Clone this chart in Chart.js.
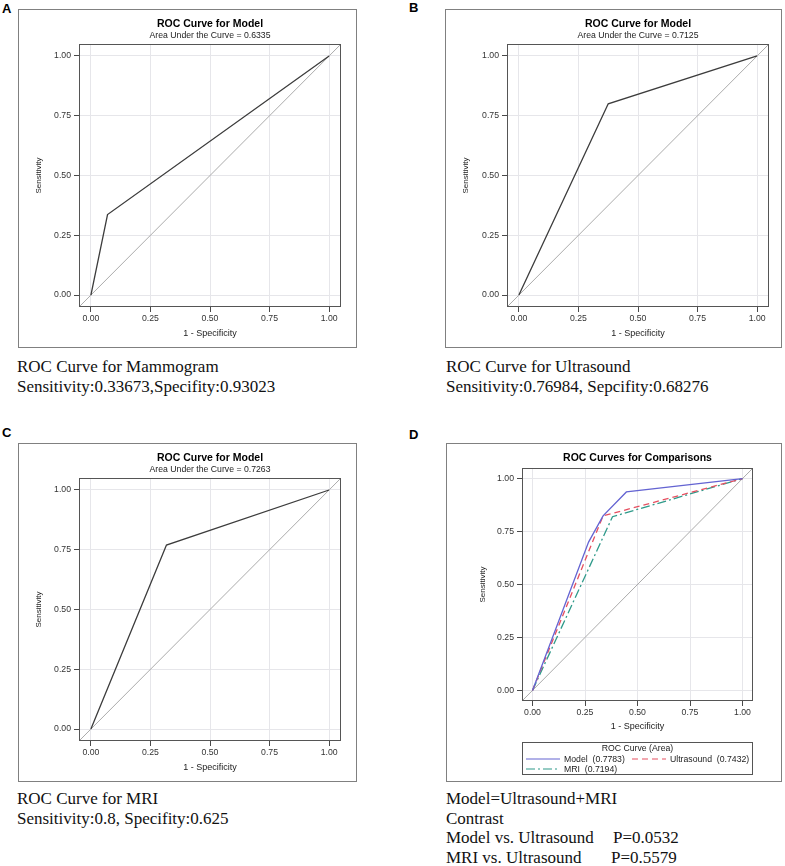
<!DOCTYPE html>
<html>
<head>
<meta charset="utf-8">
<script src="https://cdn.jsdelivr.net/npm/chart.js@4.4.1/dist/chart.umd.min.js"></script>
<style>
    body { margin: 0; width: 785px; height: 866px; background: #fff; position: relative; overflow: hidden; font-family: "Liberation Sans", Arial, sans-serif; }
    .panel-box { position: absolute; border: 1px solid #808080; box-sizing: border-box; }
    .panel-box canvas { position: absolute; left: 0; top: 0; }
    .letter { position: absolute; font: bold 13px "Liberation Sans", Arial, sans-serif; color: #000; }
    .caption { position: absolute; font: 17px "Liberation Serif", "Times New Roman", serif; line-height: 20px; color: #111; white-space: nowrap; }
    .caption .col { display: inline-block; }
    #legend-d { position: absolute; left: 522px; top: 742px; width: 231px; height: 33px; border: 1px solid #555; box-sizing: border-box; font-size: 8.7px; line-height: 10.5px; color: #222; }
    #legend-d .legend-title { text-align: center; }
    #legend-d .legend-items { display: grid; grid-template-columns: 106px auto; padding-left: 3px; }
    #legend-d .item { display: flex; align-items: center; white-space: pre; }
    #legend-d svg { margin-right: 4px; }
</style>
</head>
<body>

<div class="letter" style="left:2px; top:1px;">A</div>
<div class="letter" style="left:409px; top:0px;">B</div>
<div class="letter" style="left:2px; top:425px;">C</div>
<div class="letter" style="left:409px; top:427px;">D</div>

<div class="panel-box" style="left:18px; top:9px; width:339px; height:339px;"><canvas id="chartA" width="337" height="337"></canvas></div>
<div class="panel-box" style="left:445px; top:9px; width:337px; height:339px;"><canvas id="chartB" width="335" height="337"></canvas></div>
<div class="panel-box" style="left:18px; top:443px; width:339px; height:339px;"><canvas id="chartC" width="337" height="337"></canvas></div>
<div class="panel-box" style="left:446px; top:443px; width:336px; height:339px;"><canvas id="chartD" width="334" height="337"></canvas></div>
<div id="legend-d"></div>

<div class="caption" style="left:17px; top:357px;">ROC Curve for Mammogram<br>Sensitivity:0.33673,Specifity:0.93023</div>
<div class="caption" style="left:446px; top:357px;">ROC Curve for Ultrasound<br>Sensitivity:0.76984, Sepcifity:0.68276</div>
<div class="caption" style="left:17px; top:789px;">ROC Curve for MRI<br>Sensitivity:0.8, Specifity:0.625</div>
<div class="caption" style="left:446px; top:789px; line-height:19.7px;">Model=Ultrasound+MRI<br>Contrast<br><span class="col" style="width:167px">Model vs. Ultrasound</span>P=0.0532<br><span class="col" style="width:165px">MRI vs. Ultrasound</span>P=0.5579</div>

<script>
// Axis values
const tickValues = [0, 0.25, 0.5, 0.75, 1];
const axisRange = [-0.05, 1.05];

// Panel A - mammogram
const mammoFpr = [0, 0.0698, 1];
const mammoTpr = [0, 0.3367, 1];

// Panel B - ultrasound (as labelled)
const ultrasoundFpr = [0, 0.375, 1];
const ultrasoundTpr = [0, 0.80, 1];

// Panel C - MRI (as labelled)
const mriFpr = [0, 0.3172, 1];
const mriTpr = [0, 0.7698, 1];

// Panel D - comparison curves
const compLabels = ['Model', 'Ultrasound', 'MRI'];
const compAreas = ['0.7783', '0.7432', '0.7194'];
const compModelFpr = [0, 0.267, 0.336, 0.447, 1];
const compModelTpr = [0, 0.700, 0.824, 0.937, 1];
const compUltrasoundFpr = [0, 0.336, 1];
const compUltrasoundTpr = [0, 0.824, 1];
const compMriFpr = [0, 0.381, 1];
const compMriTpr = [0, 0.820, 1];

const FONT = '"Liberation Sans", Arial, sans-serif';
Chart.defaults.font.family = FONT;

function toPoints(xs, ys) {
    return xs.map((x, i) => ({ x: x, y: ys[i] }));
}

function lineDataset(label, xs, ys, color, dash, width) {
    return {
        label: label,
        data: toPoints(xs, ys),
        showLine: true,
        borderColor: color,
        backgroundColor: color,
        borderWidth: width || 1.3,
        borderDash: dash || [],
        pointRadius: 0,
        tension: 0
    };
}

function diagonalDataset() {
    return lineDataset('Chance', axisRange, axisRange, '#ababab', [], 1);
}

// dark frame round the plot area
const plotFrame = {
    id: 'plotFrame',
    afterDraw(chart) {
        const { ctx, chartArea: a } = chart;
        ctx.save();
        ctx.strokeStyle = '#555';
        ctx.lineWidth = 1;
        ctx.strokeRect(Math.round(a.left) + 0.5, Math.round(a.top) + 0.5, Math.round(a.width) - 1, Math.round(a.height) - 1);
        ctx.restore();
    }
};

function axisOptions(isX, cfg) {
    return {
        type: 'linear',
        min: axisRange[0],
        max: axisRange[1],
        afterBuildTicks: s => { s.ticks = tickValues.map(v => ({ value: v })); },
        afterFit: s => { if (isX) s.height = cfg.xHeight; else s.width = cfg.yWidth; },
        grid: { color: '#e6e6ea', tickColor: '#4a4a4a', tickLength: 5, drawTicks: true },
        border: { display: false },
        ticks: {
            color: '#333',
            font: { size: 8.7 },
            padding: isX ? 1 : 3,
            maxRotation: 0,
            autoSkip: false,
            callback: v => Number(v).toFixed(2)
        },
        title: {
            display: true,
            text: isX ? '1 - Specificity' : 'Sensitivity',
            color: '#222',
            font: { size: isX ? 9 : 8 },
            padding: isX ? { top: 0, bottom: cfg.xTitlePad } : { top: cfg.yTitlePad, bottom: 0 }
        }
    };
}

function rocChart(canvasId, cfg) {
    const ctx = document.getElementById(canvasId).getContext('2d');
    return new Chart(ctx, {
        type: 'scatter',
        data: { datasets: cfg.datasets.concat([diagonalDataset()]) },
        options: {
            responsive: false,
            animation: false,
            devicePixelRatio: 1,
            layout: { padding: { left: 0, top: 0, right: cfg.padRight, bottom: cfg.padBottom } },
            plugins: {
                legend: { display: false },
                tooltip: { enabled: false },
                title: {
                    display: true,
                    text: cfg.title,
                    fullSize: false,
                    color: '#000',
                    font: { size: 10.5, weight: 'bold' },
                    padding: cfg.titlePad
                },
                subtitle: {
                    display: !!cfg.subtitle,
                    text: cfg.subtitle || '',
                    fullSize: false,
                    color: '#222',
                    font: { size: 8.7 },
                    padding: { top: 0, bottom: 3.3 }
                }
            },
            scales: { x: axisOptions(true, cfg), y: axisOptions(false, cfg) }
        },
        plugins: [plotFrame].concat(cfg.plugins || [])
    });
}

// HTML legend for panel D, built from the chart's datasets
const htmlLegend = {
    id: 'htmlLegend',
    afterUpdate(chart) {
        const box = document.getElementById('legend-d');
        const items = chart.data.datasets.slice(0, compLabels.length).map((ds, i) => {
            const dash = ds.borderDash.length ? ds.borderDash.join(',') : 'none';
            return `<div class="item"><svg width="34" height="6"><line x1="0" y1="3" x2="34" y2="3" stroke="${ds.borderColor}" stroke-width="1.2" stroke-dasharray="${dash}"/></svg>${compLabels[i]}  (${compAreas[i]})</div>`;
        });
        box.innerHTML = `<div class="legend-title">ROC Curve (Area)</div><div class="legend-items">${items.join('')}</div>`;
    }
};

const curveColor = '#3c3c3c';

rocChart('chartA', {
    title: 'ROC Curve for Model',
    subtitle: 'Area Under the Curve = 0.6335',
    datasets: [lineDataset('Model', mammoFpr, mammoTpr, curveColor)],
    titlePad: { top: 7.7, bottom: 0 },
    padRight: 15, padBottom: 0, xHeight: 40, yWidth: 60, yTitlePad: 15, xTitlePad: 7.6
});

rocChart('chartB', {
    title: 'ROC Curve for Model',
    subtitle: 'Area Under the Curve = 0.7125',
    datasets: [lineDataset('Model', ultrasoundFpr, ultrasoundTpr, curveColor)],
    titlePad: { top: 7.7, bottom: 0 },
    padRight: 12, padBottom: 0, xHeight: 40, yWidth: 61, yTitlePad: 15, xTitlePad: 7.6
});

rocChart('chartC', {
    title: 'ROC Curve for Model',
    subtitle: 'Area Under the Curve = 0.7263',
    datasets: [lineDataset('Model', mriFpr, mriTpr, curveColor)],
    titlePad: { top: 7.7, bottom: 0 },
    padRight: 15, padBottom: 0, xHeight: 40, yWidth: 60, yTitlePad: 15, xTitlePad: 7.6
});

rocChart('chartD', {
    title: 'ROC Curves for Comparisons',
    subtitle: null,
    datasets: [
        lineDataset(compLabels[0], compModelFpr, compModelTpr, '#6464d2'),
        lineDataset(compLabels[1], compUltrasoundFpr, compUltrasoundTpr, '#e65060', [6, 4]),
        lineDataset(compLabels[2], compMriFpr, compMriTpr, '#2f9a8a', [9, 3, 2, 3])
    ],
    titlePad: { top: 7.4, bottom: 4 },
    padRight: 28, padBottom: 43, xHeight: 37, yWidth: 75, yTitlePad: 31, xTitlePad: 5.6,
    plugins: [htmlLegend]
});
</script>
</body>
</html>
